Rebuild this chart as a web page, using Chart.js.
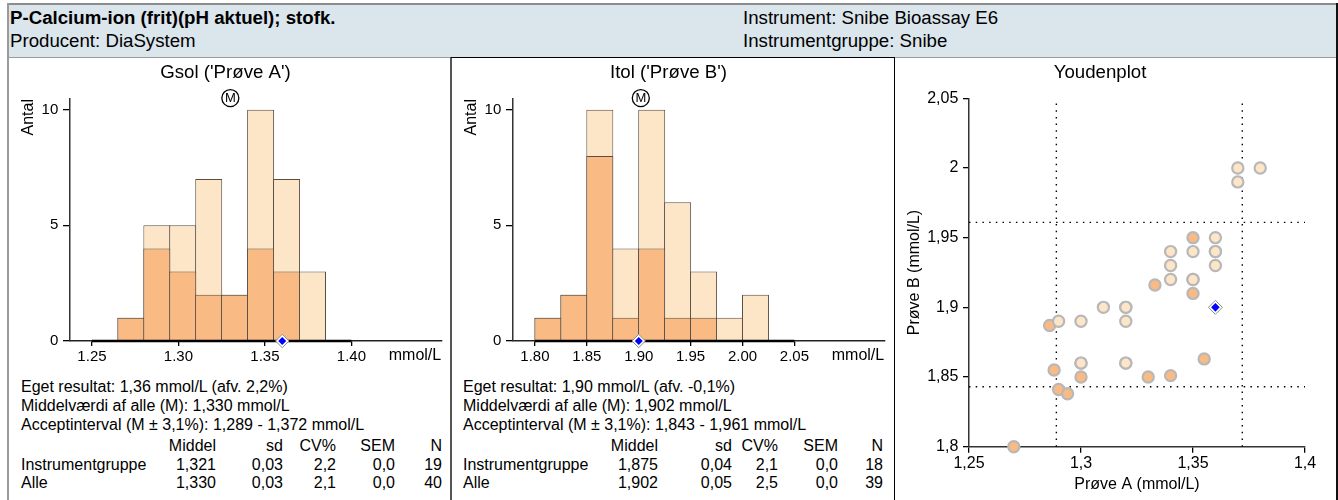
<!DOCTYPE html>
<html><head><meta charset="utf-8">
<script src="https://cdn.jsdelivr.net/npm/chart.js@4.4.0/dist/chart.umd.min.js"></script>
<style>
html,body{margin:0;padding:0}
body{width:1338px;height:500px;overflow:hidden;background:#fff;font-family:'Liberation Sans',Arial,sans-serif;color:#000;position:relative}
.abs{position:absolute;white-space:nowrap}
.h{font-size:18.67px;line-height:21px}
.t{font-size:16px;line-height:18px}
canvas{position:absolute}
</style>
</head><body>
<div class="abs" style="left:8px;top:3px;width:1329px;height:52px;background:#dae5ec;border-top:2px solid #8c8c8c;border-bottom:1px solid #9a9a9a"></div>
<div class="abs h" style="left:10px;top:7px;font-weight:bold">P-Calcium-ion (frit)(pH aktuel); stofk.</div>
<div class="abs h" style="left:10px;top:30px">Producent: DiaSystem</div>
<div class="abs h" style="left:743px;top:7px">Instrument: Snibe Bioassay E6</div>
<div class="abs h" style="left:743px;top:30px">Instrumentgruppe: Snibe</div>

<div class="abs" style="left:7px;top:3px;width:2px;height:497px;background:#9a9a9a"></div>
<div class="abs" style="left:450px;top:57px;width:2px;height:443px;background:#555"></div>
<div class="abs" style="left:451px;top:57px;width:443px;height:1px;background:#000"></div>
<div class="abs" style="left:894px;top:57px;width:1px;height:443px;background:#000"></div>
<div class="abs" style="left:1336px;top:3px;width:2px;height:497px;background:#111"></div>

<canvas id="cA" width="442" height="312" style="left:9px;top:58px"></canvas>
<canvas id="cB" width="442" height="312" style="left:452px;top:58px"></canvas>
<canvas id="cY" width="442" height="442" style="left:895px;top:58px"></canvas>

<div id="stats"></div>

<script>
// ---------- data ----------
const A_BIN_START = [1.265, 1.280, 1.295, 1.310, 1.325, 1.340, 1.355, 1.370];
const A_BIN_WIDTH = 0.015;
const A_ALLE   = [1, 5, 5, 7, 2, 10, 7, 3];
const A_GRUPPE = [1, 4, 3, 2, 2, 4, 3, 0];
const A_TICKS = [1.25, 1.30, 1.35, 1.40];
const A_TICK_LABELS = ['1.25', '1.30', '1.35', '1.40'];
const A_MEAN = 1.330;
const A_OWN = 1.36;
const A_LIMITS = [1.289, 1.372];

const B_BIN_START = [1.800, 1.825, 1.850, 1.875, 1.900, 1.925, 1.950, 1.975, 2.000];
const B_BIN_WIDTH = 0.025;
const B_ALLE   = [1, 2, 10, 4, 10, 6, 3, 1, 2];
const B_GRUPPE = [1, 2, 8, 1, 4, 1, 1, 0, 0];
const B_TICKS = [1.80, 1.85, 1.90, 1.95, 2.00, 2.05];
const B_TICK_LABELS = ['1.80', '1.85', '1.90', '1.95', '2.00', '2.05'];
const B_MEAN = 1.902;
const B_OWN = 1.90;
const B_LIMITS = [1.843, 1.961];

const COUNT_TICKS = [0, 5, 10];
const COUNT_TICK_LABELS = ['0', '5', '10'];
const M_MARK_Y = 10.5;

// Youden plot points (Prøve A, Prøve B)
const ALLE_A = [1.37, 1.38, 1.37, 1.36, 1.34, 1.35, 1.36, 1.34, 1.36, 1.34, 1.35, 1.31, 1.32, 1.32, 1.30, 1.29, 1.30, 1.32];
const ALLE_B = [2.00, 2.00, 1.99, 1.95, 1.94, 1.94, 1.94, 1.93, 1.93, 1.92, 1.92, 1.90, 1.90, 1.89, 1.89, 1.89, 1.86, 1.86];
const GRP_A = [1.35, 1.333, 1.35, 1.286, 1.355, 1.30, 1.33, 1.34, 1.288, 1.29, 1.294, 1.27, 1.30, 1.32, 1.32, 1.35, 1.36];
const GRP_B = [1.95, 1.916, 1.91, 1.887, 1.863, 1.85, 1.85, 1.851, 1.855, 1.841, 1.838, 1.80, 1.86, 1.86, 1.90, 1.92, 1.94];
const OWN_A = 1.36, OWN_B = 1.90;
const YX_TICKS = [1.25, 1.30, 1.35, 1.40];
const YX_TICK_LABELS = ['1,25', '1,3', '1,35', '1,4'];
const YY_TICKS = [1.80, 1.85, 1.90, 1.95, 2.00, 2.05];
const YY_TICK_LABELS = ['1,8', '1,85', '1,9', '1,95', '2', '2,05'];

// stats text
const STATS = [
  {left: 21, lines: ['Eget resultat: 1,36 mmol/L (afv. 2,2%)', 'Middelværdi af alle (M): 1,330 mmol/L', 'Acceptinterval (M ± 3,1%): 1,289 - 1,372 mmol/L'],
   cols: [216, 283, 336, 395, 442],
   rows: [['', 'Middel', 'sd', 'CV%', 'SEM', 'N'], ['Instrumentgruppe', '1,321', '0,03', '2,2', '0,0', '19'], ['Alle', '1,330', '0,03', '2,1', '0,0', '40']]},
  {left: 463, lines: ['Eget resultat: 1,90 mmol/L (afv. -0,1%)', 'Middelværdi af alle (M): 1,902 mmol/L', 'Acceptinterval (M ± 3,1%): 1,843 - 1,961 mmol/L'],
   cols: [658, 732, 778, 838, 883],
   rows: [['', 'Middel', 'sd', 'CV%', 'SEM', 'N'], ['Instrumentgruppe', '1,875', '0,04', '2,1', '0,0', '18'], ['Alle', '1,902', '0,05', '2,5', '0,0', '39']]}
];
const LINE_TOPS = [377.5, 396.5, 415.5];
const ROW_TOPS = [437, 456, 473.5];

// ---------- stats text ----------
const st = document.getElementById('stats');
function addText(txt, left, top, right) {
  const d = document.createElement('div');
  d.className = 'abs t';
  d.textContent = txt;
  d.style.top = top + 'px';
  if (right !== undefined) d.style.right = (1338 - right) + 'px'; else d.style.left = left + 'px';
  st.appendChild(d);
}
STATS.forEach(p => {
  p.lines.forEach((l, i) => addText(l, p.left, LINE_TOPS[i]));
  p.rows.forEach((r, i) => {
    if (r[0]) addText(r[0], p.left, ROW_TOPS[i]);
    for (let c = 1; c < r.length; c++) addText(r[c], 0, ROW_TOPS[i], p.cols[c - 1]);
  });
});

// ---------- charts ----------
Chart.defaults.font.family = "'Liberation Sans', Arial, sans-serif";
Chart.defaults.color = '#000';
const DARK = '#f9ba83', LIGHT = '#fde6c7', EDGE = '#5a4e42';

const circledText = {
  id: 'circledText',
  afterDatasetsDraw(chart) {
    const ctx = chart.ctx;
    chart.data.datasets.forEach((ds, i) => {
      if (!ds.mText) return;
      chart.getDatasetMeta(i).data.forEach(pt => {
        ctx.save();
        ctx.font = "13px 'Liberation Sans', Arial, sans-serif";
        ctx.fillStyle = '#000';
        ctx.textAlign = 'center';
        ctx.textBaseline = 'middle';
        ctx.fillText(ds.mText, pt.x, pt.y + 0.5);
        ctx.restore();
      });
    });
  }
};

function histChart(id, c) {
  const centers = c.binStart.map(s => s + c.binWidth / 2);
  const alle = centers.map((x, i) => ({x, y: c.alle[i]}));
  const grp = centers.map((x, i) => ({x, y: c.grp[i]})).filter(p => p.y > 0);
  const barCommon = {type: 'bar', grouped: false, barPercentage: 1.04, categoryPercentage: 1, borderColor: EDGE, borderWidth: 1};
  return new Chart(document.getElementById(id), {
    type: 'bar',
    data: {datasets: [
      Object.assign({data: alle, backgroundColor: LIGHT, order: 2}, barCommon),
      Object.assign({data: grp, backgroundColor: DARK, order: 1}, barCommon),
      {type: 'line', data: [{x: c.ticks[0], y: 0}, {x: c.ticks[c.ticks.length - 1], y: 0}], borderColor: '#000', borderWidth: 2.5, pointRadius: 0, order: 0, clip: false},
      {type: 'scatter', data: [{x: c.own, y: 0}], pointStyle: 'rectRot', pointRadius: 6.7, backgroundColor: '#fff', borderColor: '#8c8c8c', borderWidth: 1, order: -1, clip: false},
      {type: 'scatter', data: [{x: c.own, y: 0}], pointStyle: 'rectRot', pointRadius: 4, backgroundColor: '#0000ff', borderWidth: 0, order: -2, clip: false},
      {type: 'scatter', data: [{x: c.mean, y: M_MARK_Y}], pointStyle: 'circle', pointRadius: 8.5, backgroundColor: '#fff', borderColor: '#000', borderWidth: 1.3, order: -3, clip: false, mText: 'M'}
    ]},
    plugins: [circledText],
    options: {
      responsive: false, animation: false,
      layout: {padding: {left: 0, right: 9, top: 0, bottom: 0}},
      plugins: {
        legend: {display: false}, tooltip: {enabled: false},
        title: {display: true, text: c.title, color: '#000', font: {size: 18.67, weight: 'normal'}, padding: {top: 3.8, bottom: 14.8}}
      },
      scales: {
        x: {
          type: 'linear', min: c.min, max: c.max, offset: false,
          afterBuildTicks: s => { s.ticks = c.ticks.map(v => ({value: v})); },
          afterFit: s => { s.height = 29; },
          grid: {display: true, drawOnChartArea: false, drawTicks: true, tickLength: 5, color: '#000', lineWidth: 1.3, offset: false},
          border: {display: true, dash: [2, 7.2], color: '#222', width: 1.5},
          ticks: {autoSkip: false, maxRotation: 0, padding: 2, color: '#000', font: {size: 15}, callback: (v, i) => c.tickLabels[i]},
          title: {display: true, text: 'mmol/L', align: 'end', color: '#000', font: {size: 16}, padding: {top: 0, bottom: 4.6}}
        },
        y: {
          type: 'linear', min: 0, max: 10.46,
          afterBuildTicks: s => { s.ticks = COUNT_TICKS.map(v => ({value: v})); },
          afterFit: s => { s.width = 61; },
          grid: {display: true, drawOnChartArea: false, tickLength: 7, color: '#000', lineWidth: 1.3},
          border: {display: true, color: '#333', width: 1.5},
          ticks: {padding: 4.7, color: '#000', font: {size: 15}, callback: (v, i) => COUNT_TICK_LABELS[i]},
          title: {display: true, text: 'Antal', align: 'end', color: '#000', font: {size: 16}, padding: {top: 9.6, bottom: 0}}
        }
      }
    }
  });
}

histChart('cA', {binStart: A_BIN_START, binWidth: A_BIN_WIDTH, alle: A_ALLE, grp: A_GRUPPE, ticks: A_TICKS, tickLabels: A_TICK_LABELS,
  mean: A_MEAN, own: A_OWN, min: 1.2373, max: 1.4519, title: "Gsol ('Prøve A')"});
histChart('cB', {binStart: B_BIN_START, binWidth: B_BIN_WIDTH, alle: B_ALLE, grp: B_GRUPPE, ticks: B_TICKS, tickLabels: B_TICK_LABELS,
  mean: B_MEAN, own: B_OWN, min: 1.77885, max: 2.13654, title: "Itol ('Prøve B')"});

// Youden plot
const xMin = YX_TICKS[0], xMax = YX_TICKS[YX_TICKS.length - 1];
const yMin = YY_TICKS[0], yMax = YY_TICKS[YY_TICKS.length - 1];
const dotted = {type: 'line', borderColor: '#000', borderWidth: 1.4, borderDash: [1.5, 5.2], pointRadius: 0, order: 5, clip: false};
new Chart(document.getElementById('cY'), {
  type: 'scatter',
  data: {datasets: [
    Object.assign({data: [{x: A_LIMITS[0], y: yMin}, {x: A_LIMITS[0], y: yMax}]}, dotted),
    Object.assign({data: [{x: A_LIMITS[1], y: yMin}, {x: A_LIMITS[1], y: yMax}]}, dotted),
    Object.assign({data: [{x: xMin, y: B_LIMITS[0]}, {x: xMax, y: B_LIMITS[0]}]}, dotted),
    Object.assign({data: [{x: xMin, y: B_LIMITS[1]}, {x: xMax, y: B_LIMITS[1]}]}, dotted),
    {data: GRP_A.map((x, i) => ({x, y: GRP_B[i]})), pointRadius: 5.6, borderWidth: 2.2, backgroundColor: DARK, borderColor: '#b8b8b8', order: 3, clip: false},
    {data: ALLE_A.map((x, i) => ({x, y: ALLE_B[i]})), pointRadius: 5.6, borderWidth: 2.2, backgroundColor: LIGHT, borderColor: '#b8b8b8', order: 2, clip: false},
    {data: [{x: OWN_A, y: OWN_B}], pointStyle: 'rectRot', pointRadius: 7, backgroundColor: '#fff', borderColor: '#8c8c8c', borderWidth: 1, order: 1, clip: false},
    {data: [{x: OWN_A, y: OWN_B}], pointStyle: 'rectRot', pointRadius: 4.3, backgroundColor: '#0000ff', borderWidth: 0, order: 0, clip: false}
  ]},
  options: {
    responsive: false, animation: false,
    layout: {padding: {left: 0, right: 32, top: 0, bottom: 0}},
    plugins: {
      legend: {display: false}, tooltip: {enabled: false},
      title: {display: true, text: 'Youdenplot', color: '#000', font: {size: 18.67, weight: 'normal'}, padding: {top: 4.1, bottom: 13.8}}
    },
    scales: {
      x: {
        type: 'linear', min: xMin, max: xMax,
        afterBuildTicks: s => { s.ticks = YX_TICKS.map(v => ({value: v})); },
        afterFit: s => { s.height = 53.3; },
        grid: {display: true, drawOnChartArea: false, tickLength: 6, color: '#000', lineWidth: 1.3},
        border: {display: true, color: '#333', width: 1.5},
        ticks: {autoSkip: false, maxRotation: 0, padding: 1, color: '#000', font: {size: 16}, callback: (v, i) => YX_TICK_LABELS[i]},
        title: {display: true, text: 'Prøve A (mmol/L)', color: '#000', font: {size: 16}, padding: {top: 0, bottom: 5.4}}
      },
      y: {
        type: 'linear', min: yMin, max: yMax,
        afterBuildTicks: s => { s.ticks = YY_TICKS.map(v => ({value: v})); },
        afterFit: s => { s.width = 74; },
        grid: {display: true, drawOnChartArea: false, tickLength: 6, color: '#000', lineWidth: 1.3},
        border: {display: true, color: '#333', width: 1.5},
        ticks: {padding: 4.7, color: '#000', font: {size: 16}, callback: (v, i) => YY_TICK_LABELS[i]},
        title: {display: true, text: 'Prøve B (mmol/L)', color: '#000', font: {size: 16}, padding: {top: 10.4, bottom: 0}}
      }
    }
  }
});
</script>
</body></html>
